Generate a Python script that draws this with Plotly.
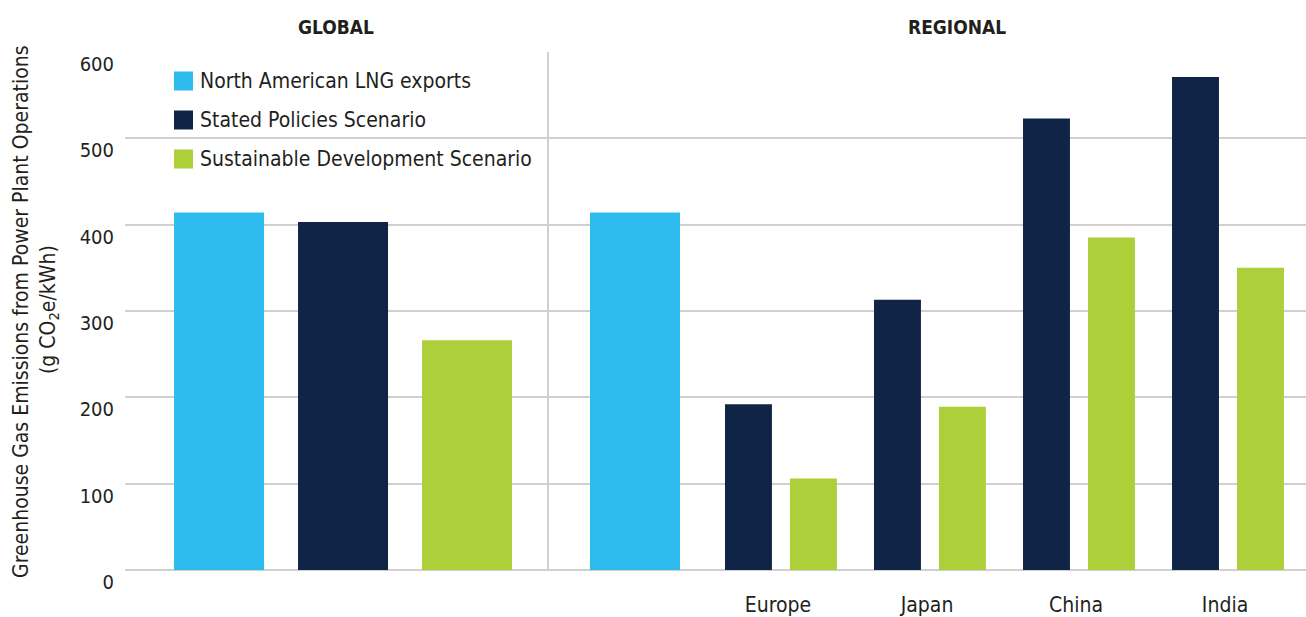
import plotly.graph_objects as go

# Greenhouse gas emissions from power plant operations (g CO2e/kWh)
series_names = ["North American LNG exports", "Stated Policies Scenario", "Sustainable Development Scenario"]
colors = ["#2EBBEE", "#0F2446", "#ADD03A"]

global_category = ["Global"]
global_lng = [414]
global_stated = [403]
global_sds = [266]

regional_lng_category = ["LNG"]
regional_lng = [414]
regions = ["Europe", "Japan", "China", "India"]
regional_stated = [192, 313, 523, 571]
regional_sds = [106, 189, 385, 350]

y_ticks = [0, 100, 200, 300, 400, 500, 600]

FONT = "DejaVu Sans Condensed, Liberation Sans Narrow, Roboto, sans-serif"
TEXT = "#231f20"
GRID = "#d0d0d0"

W, H = 1306, 617
L, R, T, B = 125, 0, 52, 47
split_px = 549  # boundary between the global and regional panels


def px_x(p):
    return (p - L) / (W - L - R)


def px_y(p):
    return (H - B - p) / (H - T - B)


split = px_x(split_px)

fig = go.Figure()

# Global panel
fig.add_trace(go.Bar(x=global_category, y=global_lng, marker_color=colors[0],
                     offset=-1.357, width=0.723, xaxis="x", yaxis="y", name=series_names[0]))
fig.add_trace(go.Bar(x=global_category, y=global_stated, marker_color=colors[1],
                     offset=-0.361, width=0.723, xaxis="x", yaxis="y", name=series_names[1]))
fig.add_trace(go.Bar(x=global_category, y=global_sds, marker_color=colors[2],
                     offset=0.635, width=0.723, xaxis="x", yaxis="y", name=series_names[2]))

# Regional panel
fig.add_trace(go.Bar(x=regional_lng_category, y=regional_lng, marker_color=colors[0],
                     offset=-0.282, width=0.604, xaxis="x2", yaxis="y2", name=series_names[0]))
fig.add_trace(go.Bar(x=regions, y=regional_stated, marker_color=colors[1],
                     offset=-0.376, width=0.315, xaxis="x2", yaxis="y2", name=series_names[1]))
fig.add_trace(go.Bar(x=regions, y=regional_sds, marker_color=colors[2],
                     offset=0.060, width=0.315, xaxis="x2", yaxis="y2", name=series_names[2]))

for tr in fig.data:
    tr.marker.line.width = 0
    tr.showlegend = False
    tr.hoverinfo = "y+name"

yaxis_common = dict(range=[0, 600], tickvals=y_ticks, showgrid=True, gridcolor=GRID, gridwidth=2,
                    zeroline=True, zerolinecolor=GRID, zerolinewidth=2, fixedrange=True)

fig.update_layout(
    width=W, height=H,
    margin=dict(l=L, r=R, t=T, b=B),
    paper_bgcolor="white", plot_bgcolor="white",
    barmode="overlay",
    font=dict(family=FONT, color=TEXT, size=21),
    xaxis=dict(domain=[0, split], type="category", range=[-1.751, 1.655],
               showticklabels=False, showgrid=False, zeroline=False, fixedrange=True),
    xaxis2=dict(domain=[split, 1], type="category", categoryorder="array",
                categoryarray=regional_lng_category + regions, range=[-0.557, 4.523],
                tickvals=regions, ticktext=regions, ticks="", ticklabelstandoff=20,
                ticklabelshift=-3, tickfont=dict(size=21), showgrid=False, zeroline=False,
                fixedrange=True, anchor="y2"),
    yaxis=dict(**yaxis_common, tickfont=dict(size=20), ticklabelshift=12, ticklabelstandoff=10,
               ticks=""),
    yaxis2=dict(**yaxis_common, anchor="x2", matches="y", showticklabels=False,
                showline=True, linecolor=GRID, linewidth=2),
    showlegend=False,
)

annotations = [
    dict(text="<b>GLOBAL</b>", x=px_x(336), y=px_y(27), size=19),
    dict(text="<b>REGIONAL</b>", x=px_x(957), y=px_y(27), size=19),
    dict(text="Greenhouse Gas Emissions from Power Plant Operations", x=px_x(21), y=px_y(312),
         textangle=-90),
    dict(text="(g CO<sub>2</sub>e/kWh)", x=px_x(49), y=px_y(310), textangle=-90),
]

# Legend drawn as swatches with labels
shapes = []
legend_rows = [81, 120, 159]
for name, color, cy in zip(series_names, colors, legend_rows):
    shapes.append(dict(type="rect", xref="paper", yref="paper",
                       x0=px_x(174), x1=px_x(193), y0=px_y(cy + 9.5), y1=px_y(cy - 9.5),
                       fillcolor=color, line=dict(width=0)))
    annotations.append(dict(text=name, x=px_x(198), y=px_y(cy), xanchor="left"))

for a in annotations:
    a.setdefault("xanchor", "center")
    size = a.pop("size", 21)
    a.update(xref="paper", yref="paper", yanchor="middle", showarrow=False,
             font=dict(family=FONT, color=TEXT, size=size))

fig.update_layout(annotations=annotations, shapes=shapes)

fig.write_html("out.html", config={"displayModeBar": False})
